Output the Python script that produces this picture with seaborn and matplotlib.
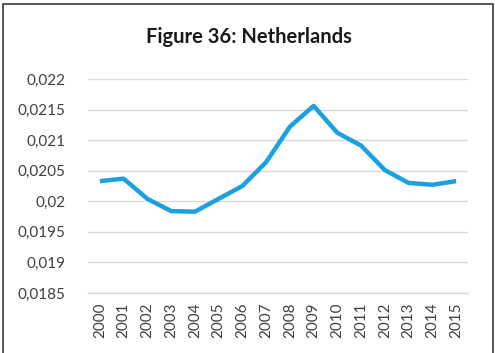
import matplotlib
matplotlib.use("Agg")
import matplotlib.pyplot as plt
from matplotlib.patches import Rectangle
from matplotlib.ticker import FuncFormatter
import seaborn as sns
import pandas as pd

years = ["2000", "2001", "2002", "2003", "2004", "2005", "2006", "2007",
         "2008", "2009", "2010", "2011", "2012", "2013", "2014", "2015"]
values = [0.02033, 0.02037, 0.02004, 0.01984, 0.01983, 0.02004, 0.02025, 0.02064,
          0.02122, 0.02156, 0.02112, 0.02091, 0.02051, 0.02030, 0.02027, 0.02033]
y_ticks = [0.0185, 0.019, 0.0195, 0.02, 0.0205, 0.021, 0.0215, 0.022]
title = "Figure 36: Netherlands"

sns.set_theme(style="white")
plt.rcParams["font.family"] = ["Lato", "DejaVu Sans"]

W, H = 495, 353
fig = plt.figure(figsize=(W / 100, H / 100), dpi=100)
ax = fig.add_axes([88 / W, 1 - 293 / H, (468 - 88) / W, (293 - 79) / H])

df = pd.DataFrame({"year": years, "value": values})
df["pos"] = range(len(years))
sns.lineplot(data=df, x="pos", y="value", ax=ax, color="#1BA1E2",
             linewidth=3.2, solid_capstyle="butt", solid_joinstyle="round")

ax.set_xlim(-0.5, len(years) - 0.5)
ax.set_ylim(y_ticks[0], y_ticks[-1])
ax.set_yticks(y_ticks)
ax.yaxis.set_major_formatter(FuncFormatter(lambda v, _: f"{v:.4f}".rstrip("0").replace(".", ",")))
ax.set_xticks(range(len(years)))
ax.set_xticklabels(years, rotation=90)
ax.set_xlabel("")
ax.set_ylabel("")

ax.grid(axis="y", color="#D9D9D9", linewidth=1)
ax.grid(axis="x", visible=False)
for s in ("left", "right", "top"):
    ax.spines[s].set_visible(False)
ax.spines["bottom"].set_color("#D9D9D9")
ax.spines["bottom"].set_linewidth(1)

ax.tick_params(axis="y", length=0, pad=16, labelsize=11, labelcolor="#404040")
ax.tick_params(axis="x", length=0, pad=7, labelsize=11, labelcolor="#404040")

fig.text(249 / W, 1 - 37 / H, title, ha="center", va="center",
         fontsize=14.5, fontweight="bold", color="#1a1a1a")

fig.patches.append(Rectangle((2.5 / W, -0.1), (492.5 - 2.5) / W, 1 - 3.5 / H + 0.1,
                             transform=fig.transFigure, fill=False,
                             edgecolor="#3a3a3a", linewidth=1.2))

fig.savefig("out.png", dpi=100)
